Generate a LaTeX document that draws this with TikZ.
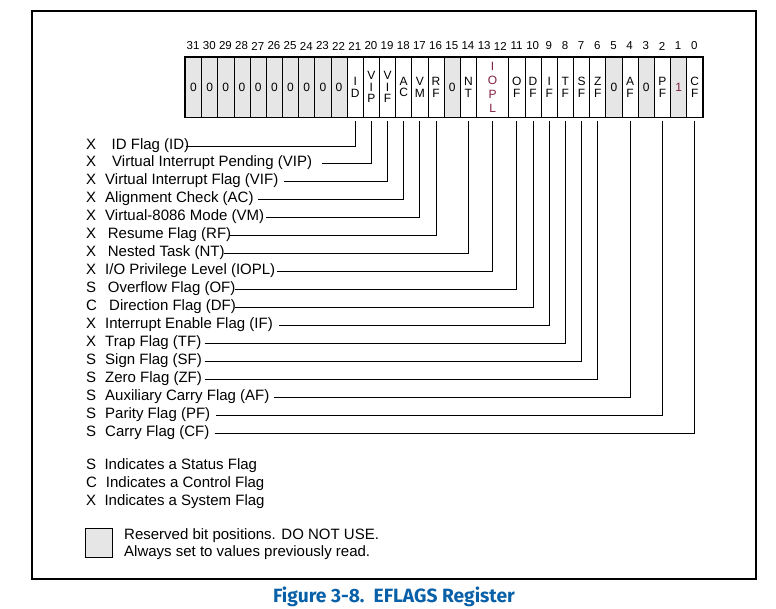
\documentclass[tikz,border=0pt]{standalone}
\usepackage{fontspec}
\setmainfont{Liberation Sans}
\newfontfamily\capfont{Fira Sans}
\definecolor{resgray}{HTML}{E6E6E6}
\definecolor{ioplred}{HTML}{7F1F3F}
\definecolor{capblue}{HTML}{0860A8}

\begin{document}
\begin{tikzpicture}[x=1pt,y=-1pt,
  bitcell/.style={draw, line width=0.8pt, minimum width=16.17pt, minimum height=59.5pt,
    inner sep=0pt, anchor=north west, align=center,
    font=\fontsize{12}{11.5}\selectfont},
  reserved/.style={bitcell, fill=resgray},
  bitnum/.style={font=\fontsize{11.5}{12}\selectfont, inner sep=0pt},
  kind/.style={anchor=west, inner sep=0pt, font=\fontsize{15}{16}\selectfont,
    text height=10pt, text depth=4pt},
  leader/.style={line width=1pt, shorten >=3.5pt},
]
\useasboundingbox (0,0) rectangle (776,608);

% outer frame
\draw[line width=1.2pt] (32,11) rectangle (756,579);

% register cells, one per bit
\foreach \b/\txt/\sty in {
  31/0/reserved, 30/0/reserved, 29/0/reserved, 28/0/reserved, 27/0/reserved,
  26/0/reserved, 25/0/reserved, 24/0/reserved, 23/0/reserved, 22/0/reserved,
  21/{I\\D}/bitcell, 20/{V\\I\\P}/bitcell, 19/{V\\I\\F}/bitcell,
  18/{A\\C}/bitcell, 17/{V\\M}/bitcell, 16/{R\\F}/bitcell, 15/0/reserved,
  14/{N\\T}/bitcell, 11/{O\\F}/bitcell, 10/{D\\F}/bitcell, 9/{I\\F}/bitcell,
  8/{T\\F}/bitcell, 7/{S\\F}/bitcell, 6/{Z\\F}/bitcell, 5/0/reserved,
  4/{A\\F}/bitcell, 3/0/reserved, 2/{P\\F}/bitcell, 0/{C\\F}/bitcell}
  \node[\sty] (b\b) at ({185+(31-\b)*16.17},57) {\txt};
\node[reserved, text=ioplred] (b1) at ({185+30*16.17},57) {1};
\node[bitcell, minimum width=32.34pt, text=ioplred,
  font=\fontsize{12}{14}\selectfont] (b12) at ({185+18*16.17},57) {I\\O\\P\\L};
\draw[line width=1.2pt] (b31.north west) rectangle (b0.south east);

% bit numbers
\foreach \b in {0,...,31}
  \node[bitnum] (n\b) at ({185+(31-\b+0.5)*16.17},46) {\b};

% flag names and their leaders
\foreach \i/\k/\tx/\t/\g/\b in {
  0/X/111.5/{ID Flag (ID)}/-3/21,
  1/X/112/{Virtual Interrupt Pending (VIP)}/10/20,
  2/X/105/{Virtual Interrupt Flag (VIF)}/5/19,
  3/X/105/{Alignment Check (AC)}/4/18,
  4/X/105/{Virtual-8086 Mode (VM)}/2/17,
  5/X/107.7/{Resume Flag (RF)}/-1/16,
  6/X/107.7/{Nested Task (NT)}/-1/14,
  7/X/105/{I/O Privilege Level (IOPL)}/2/12,
  8/S/107.7/{Overflow Flag (OF)}/-1/11,
  9/C/109/{Direction Flag (DF)}/-1/10,
  10/X/105/{Interrupt Enable Flag (IF)}/6/9,
  11/X/105/{Trap Flag (TF)}/3/8,
  12/S/105/{Sign Flag (SF)}/2.5/7,
  13/S/105/{Zero Flag (ZF)}/2.5/6,
  14/S/105/{Auxiliary Carry Flag (AF)}/4/4,
  15/S/105/{Parity Flag (PF)}/6/2,
  16/S/105/{Carry Flag (CF)}/5/0}
{
  \node[kind] (k\i) at (86,{146+\i*17.94}) {\k};
  \node[kind] (l\i) at (\tx,{146+\i*17.94}) {\t};
  \draw[leader] ([xshift=\g pt]l\i.east) -| (b\b.south);
}

% legend
\node[kind] (ks) at (86,466.5) {S};
\node[kind] (ls) at (104.3,466.5) {Indicates a Status Flag};
\node[kind] (kc) at (86,484.3) {C};
\node[kind] (lc) at (105.7,484.3) {Indicates a Control Flag};
\node[kind] (kx) at (86,502) {X};
\node[kind] (lx) at (104.3,502) {Indicates a System Flag};
\node[draw, fill=resgray, line width=0.8pt, minimum width=27pt, minimum height=29pt,
  inner sep=0pt, anchor=north west] (resbox) at (85,528) {};
\node[kind] (res1) at (124,536) {Reserved bit positions. DO NOT USE.};
\node[kind] (res2) at (124,553) {Always set to values previously read.};

% caption
\node[font=\capfont\bfseries\fontsize{19.2}{21}\selectfont, text=capblue, inner sep=0pt]
  (cap) at (394,597) {Figure 3-8.\ \ EFLAGS Register};
\end{tikzpicture}
\end{document}
